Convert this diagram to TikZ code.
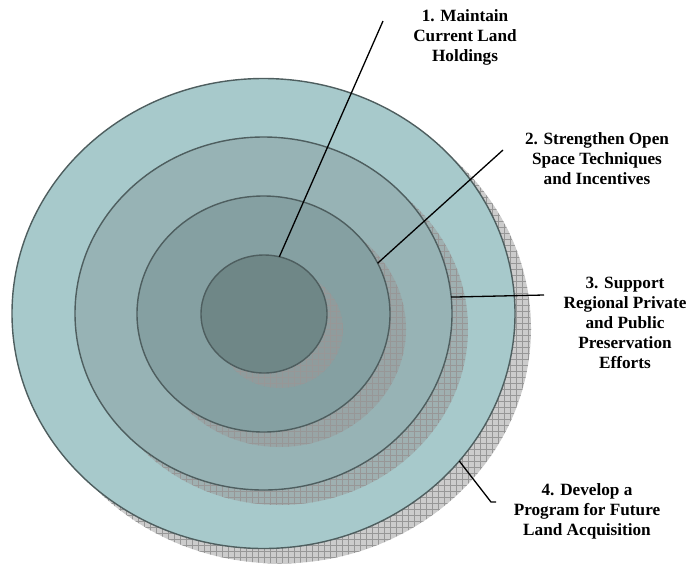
\documentclass[tikz,border=0pt]{standalone}
\usepackage{fontspec}
\setmainfont{Liberation Serif}
\usetikzlibrary{shapes.geometric, shadows, patterns.meta}
\definecolor{ringline}{HTML}{4E5E5F}
\definecolor{ringa}{HTML}{A7C9CB}
\definecolor{ringb}{HTML}{97B3B5}
\definecolor{ringc}{HTML}{85A0A2}
\definecolor{ringd}{HTML}{6F8787}
\definecolor{shadowgray}{HTML}{999999}
\definecolor{hatchgray}{HTML}{979797}

\begin{document}
\begin{tikzpicture}[x=1pt, y=-1pt,
  ringshadow/.style={
    general shadow={shadow xshift=16pt, shadow yshift=-15pt, fill=shadowgray, fill opacity=.5},
    general shadow={shadow xshift=16pt, shadow yshift=-15pt, pattern={Hatch[distance=6pt, line width=.3pt]}, pattern color=hatchgray}},
  ring/.style={ellipse, ringshadow, draw=ringline, line width=1.4pt, inner sep=0pt, outer sep=0pt},
  goal/.style={align=center, inner sep=0pt, font=\bfseries\fontsize{17.2}{20}\selectfont},
  link/.style={draw=black, line width=1.3pt},
]
\useasboundingbox (0,0) rectangle (687,563);

% the four rings, outermost first
\node[ring, fill=ringa, minimum width=503pt, minimum height=470pt] (outer) at (263.5,313.5) {};
\node[ring, fill=ringb, minimum width=377pt, minimum height=353pt] (ring2) at (263.5,313.5) {};
\node[ring, fill=ringc, minimum width=253pt, minimum height=236pt] (ring3) at (263.5,314) {};
\node[ring, fill=ringd, minimum width=126pt, minimum height=118pt] (inner) at (264,314) {};

% labels
\node[goal] (goal1) at (465,37) {1. Maintain\\Current Land\\Holdings};
\node[goal] (goal2) at (597,159) {2. Strengthen Open\\Space Techniques\\and Incentives};
\node[goal] (goal3) at (625,323) {3. Support\\Regional Private\\and Public\\Preservation\\Efforts};
\node[goal] (goal4) at (587,511) {4. Develop a\\Program for Future\\Land Acquisition};

% leader lines
\coordinate (tip1) at (383,21);
\coordinate (tip2) at (503,150);
\coordinate (tip3) at (544,295);
\coordinate (bend4) at (491,502);
\coordinate (tip4) at (496,502);
\draw[link] (inner.75) -- (tip1);
\draw[link] (ring3.24) -- (tip2);
\draw[link] (ring2.5) -- (tip3);
\draw[link] (outer.-37) -- (bend4) -- (tip4);

\end{tikzpicture}
\end{document}
